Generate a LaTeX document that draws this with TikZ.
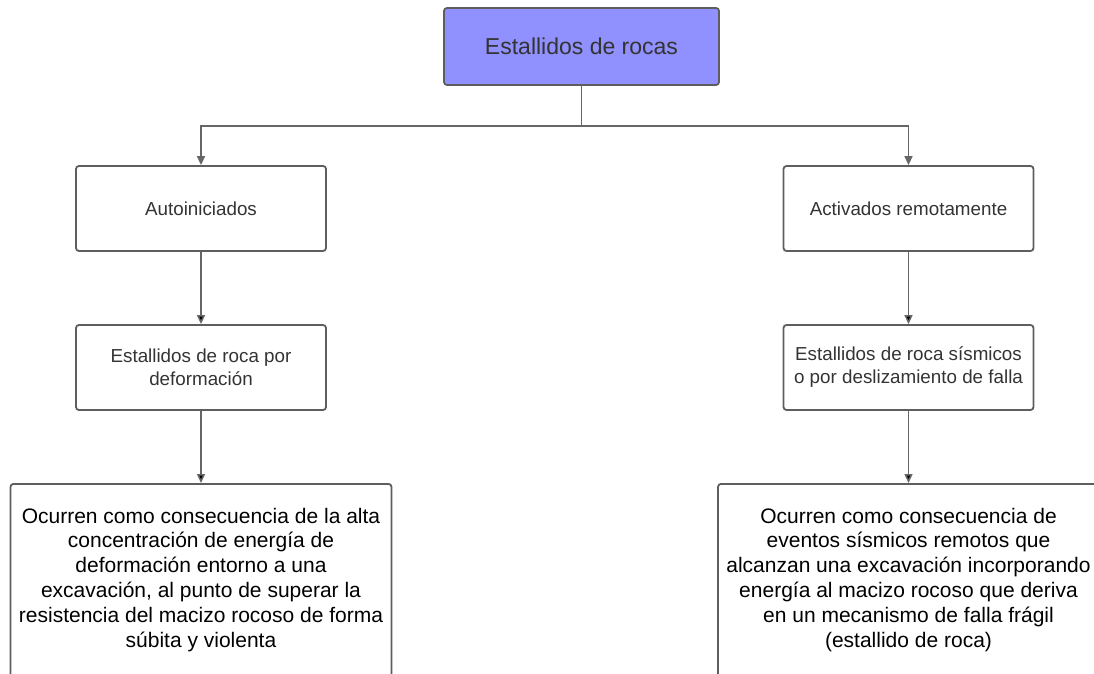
\documentclass[tikz,border=0pt]{standalone}
\usepackage{fontspec}
\setmainfont{Liberation Sans}
\usetikzlibrary{arrows.meta,positioning}
\definecolor{rootfill}{HTML}{9090FF}
\definecolor{edgegray}{HTML}{5E5E5E}
\definecolor{wiregray}{HTML}{666666}
\definecolor{textgray}{HTML}{333333}
\tikzset{>={Triangle[length=9pt,width=8pt]},node distance=159pt}
\tikzset{box/.style={draw=edgegray,line width=1.8pt,rounded corners=3pt,align=center,
    text=textgray,minimum width=250pt,minimum height=85pt,inner sep=0pt,
    font=\fontsize{18.8}{23}\selectfont}}
\tikzset{rootbox/.style={box,fill=rootfill,minimum width=275pt,minimum height=77pt,
    font=\fontsize{23}{27}\selectfont}}
\tikzset{descbox/.style={draw=edgegray,line width=1.8pt,rounded corners=3pt,align=center,
    text=black,minimum width=381pt,anchor=north,inner xsep=0pt,inner ysep=24pt,
    text depth=60pt,font=\fontsize{21}{24.8}\selectfont}}
\tikzset{wire/.style={draw=wiregray,line width=1.5pt}}

\begin{document}
\begin{tikzpicture}[x=1pt,y=-1pt]
    \useasboundingbox (0,0) rectangle (1094,674);
    \clip (0,0) rectangle (1094,674);
    \node[rootbox] (root) at (581.5,46.5) {Estallidos de rocas};
    \node[box] (auto) at (201,208.5) {Autoiniciados};
    \node[box] (remote) at (908.5,208.5) {Activados remotamente};
    \node[box] (deform) [below of=auto] {Estallidos de roca por\\deformación};
    \node[box] (seismic) [below of=remote] {Estallidos de roca sísmicos\\o por deslizamiento de falla};
    \node[descbox] (deformtext) at (201,483) {Ocurren como consecuencia de la alta\\
        concentración de energía de\\deformación entorno a una\\
        excavación, al punto de superar la\\resistencia del macizo rocoso de forma\\
        súbita y violenta};
    \node[descbox] (seismictext) at (908.5,483) {Ocurren como consecuencia de\\
        eventos sísmicos remotos que\\alcanzan una excavación incorporando\\
        energía al macizo rocoso que deriva\\en un mecanismo de falla frágil\\
        (estallido de roca)};
    \coordinate (split) at (581.5,126);
    \draw[wire] (root) -- (split);
    \draw[wire,->] (split) -| (auto);
    \draw[wire,->] (split) -| (remote);
    \path[wire,->]
        (auto) edge (deform)
        (remote) edge (seismic)
        (deform) edge (deformtext)
        (seismic) edge (seismictext)
    ;
\end{tikzpicture}
\end{document}
